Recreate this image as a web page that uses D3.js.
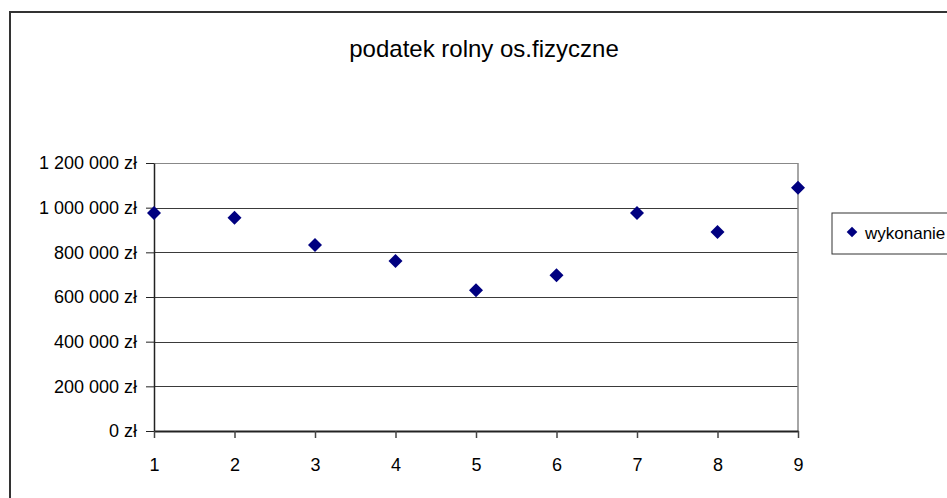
<!DOCTYPE html>
<html>
<head>
<meta charset="utf-8">
<script src="https://cdn.jsdelivr.net/npm/d3@7"></script>
<style>
  html, body { margin: 0; padding: 0; background: #fff; overflow: hidden; }
  svg { display: block; font-family: "Liberation Sans", Arial, sans-serif; }
</style>
</head>
<body>
<svg id="chart" width="947" height="498"></svg>
<script>
const chartTitle = "podatek rolny os.fizyczne";
const seriesName = "wykonanie";
const categories = [1, 2, 3, 4, 5, 6, 7, 8, 9];
const values = [976000, 955000, 833000, 761000, 630000, 697000, 976000, 891000, 1089000];
const yTicks = [0, 200000, 400000, 600000, 800000, 1000000, 1200000];
const xTicks = [1, 2, 3, 4, 5, 6, 7, 8, 9];

const svg = d3.select("#chart");
const plot = { left: 154, right: 798, top: 163, bottom: 431 };

// outer chart border
svg.append("rect")
  .attr("x", 10).attr("y", 12).attr("width", 960).attr("height", 520)
  .attr("fill", "#fff").attr("stroke", "#333").attr("stroke-width", 2);

const x = d3.scaleLinear().domain([1, 9]).range([plot.left, plot.right]);
const y = d3.scaleLinear().domain([0, 1200000]).range([plot.bottom, plot.top]);

const loc = d3.formatLocale({ decimal: ",", thousands: " ", grouping: [3], currency: ["", " zł"] });
const fmt = v => loc.format(",.0f")(v) + " zł";

// title
svg.append("text")
  .attr("x", 484).attr("y", 57)
  .attr("text-anchor", "middle")
  .attr("font-size", 24)
  .attr("fill", "#000")
  .text(chartTitle);

// gridlines
const grid = svg.append("g").attr("transform", `translate(${plot.left},0)`)
  .call(d3.axisLeft(y).tickValues(yTicks).tickSize(-(plot.right - plot.left)).tickFormat(""));
grid.select(".domain").remove();
grid.selectAll(".tick line")
  .attr("stroke", d => d === 1200000 ? "#888" : "#3a3a3a")
  .attr("stroke-width", 1)
  .attr("shape-rendering", "crispEdges");

// right plot border
svg.append("line")
  .attr("x1", plot.right).attr("x2", plot.right)
  .attr("y1", plot.top).attr("y2", plot.bottom)
  .attr("stroke", "#888").attr("stroke-width", 1.5);

// y axis
const yAxis = svg.append("g").attr("transform", `translate(${plot.left},0)`)
  .call(d3.axisLeft(y).tickValues(yTicks).tickSize(8).tickPadding(9).tickFormat(fmt).tickSizeOuter(0));
yAxis.select(".domain").attr("stroke", "#222").attr("stroke-width", 1.5);
yAxis.selectAll(".tick line").attr("stroke", "#222").attr("stroke-width", 1);
yAxis.selectAll(".tick text").attr("font-size", 18).attr("fill", "#000")
  .attr("font-family", "'Liberation Sans', Arial, sans-serif");

// x axis
const xAxis = svg.append("g").attr("transform", `translate(0,${plot.bottom})`)
  .call(d3.axisBottom(x).tickValues(xTicks).tickSize(7).tickPadding(20).tickFormat(d3.format("d")).tickSizeOuter(0));
xAxis.select(".domain").attr("stroke", "#222").attr("stroke-width", 2);
xAxis.selectAll(".tick line").attr("stroke", "#444").attr("stroke-width", 1.5);
xAxis.selectAll(".tick text").attr("font-size", 18).attr("fill", "#000")
  .attr("font-family", "'Liberation Sans', Arial, sans-serif");

// points
const diamond = r => `M0,${-r}L${r},0L0,${r}L${-r},0Z`;
svg.append("g").selectAll("path")
  .data(categories.map((c, i) => ({ c, v: values[i] })))
  .join("path")
  .attr("transform", d => `translate(${x(d.c)},${y(d.v)})`)
  .attr("d", diamond(7))
  .attr("fill", "#000080");

// legend
const lg = svg.append("g");
lg.append("rect")
  .attr("x", 832).attr("y", 213).attr("width", 200).attr("height", 41)
  .attr("fill", "#fff").attr("stroke", "#333").attr("stroke-width", 1);
lg.append("path")
  .attr("transform", "translate(852,232)")
  .attr("d", diamond(5.3))
  .attr("fill", "#000080");
lg.append("text")
  .attr("x", 865).attr("y", 238.5)
  .attr("font-size", 17)
  .attr("fill", "#000")
  .text(seriesName);
</script>
</body>
</html>
